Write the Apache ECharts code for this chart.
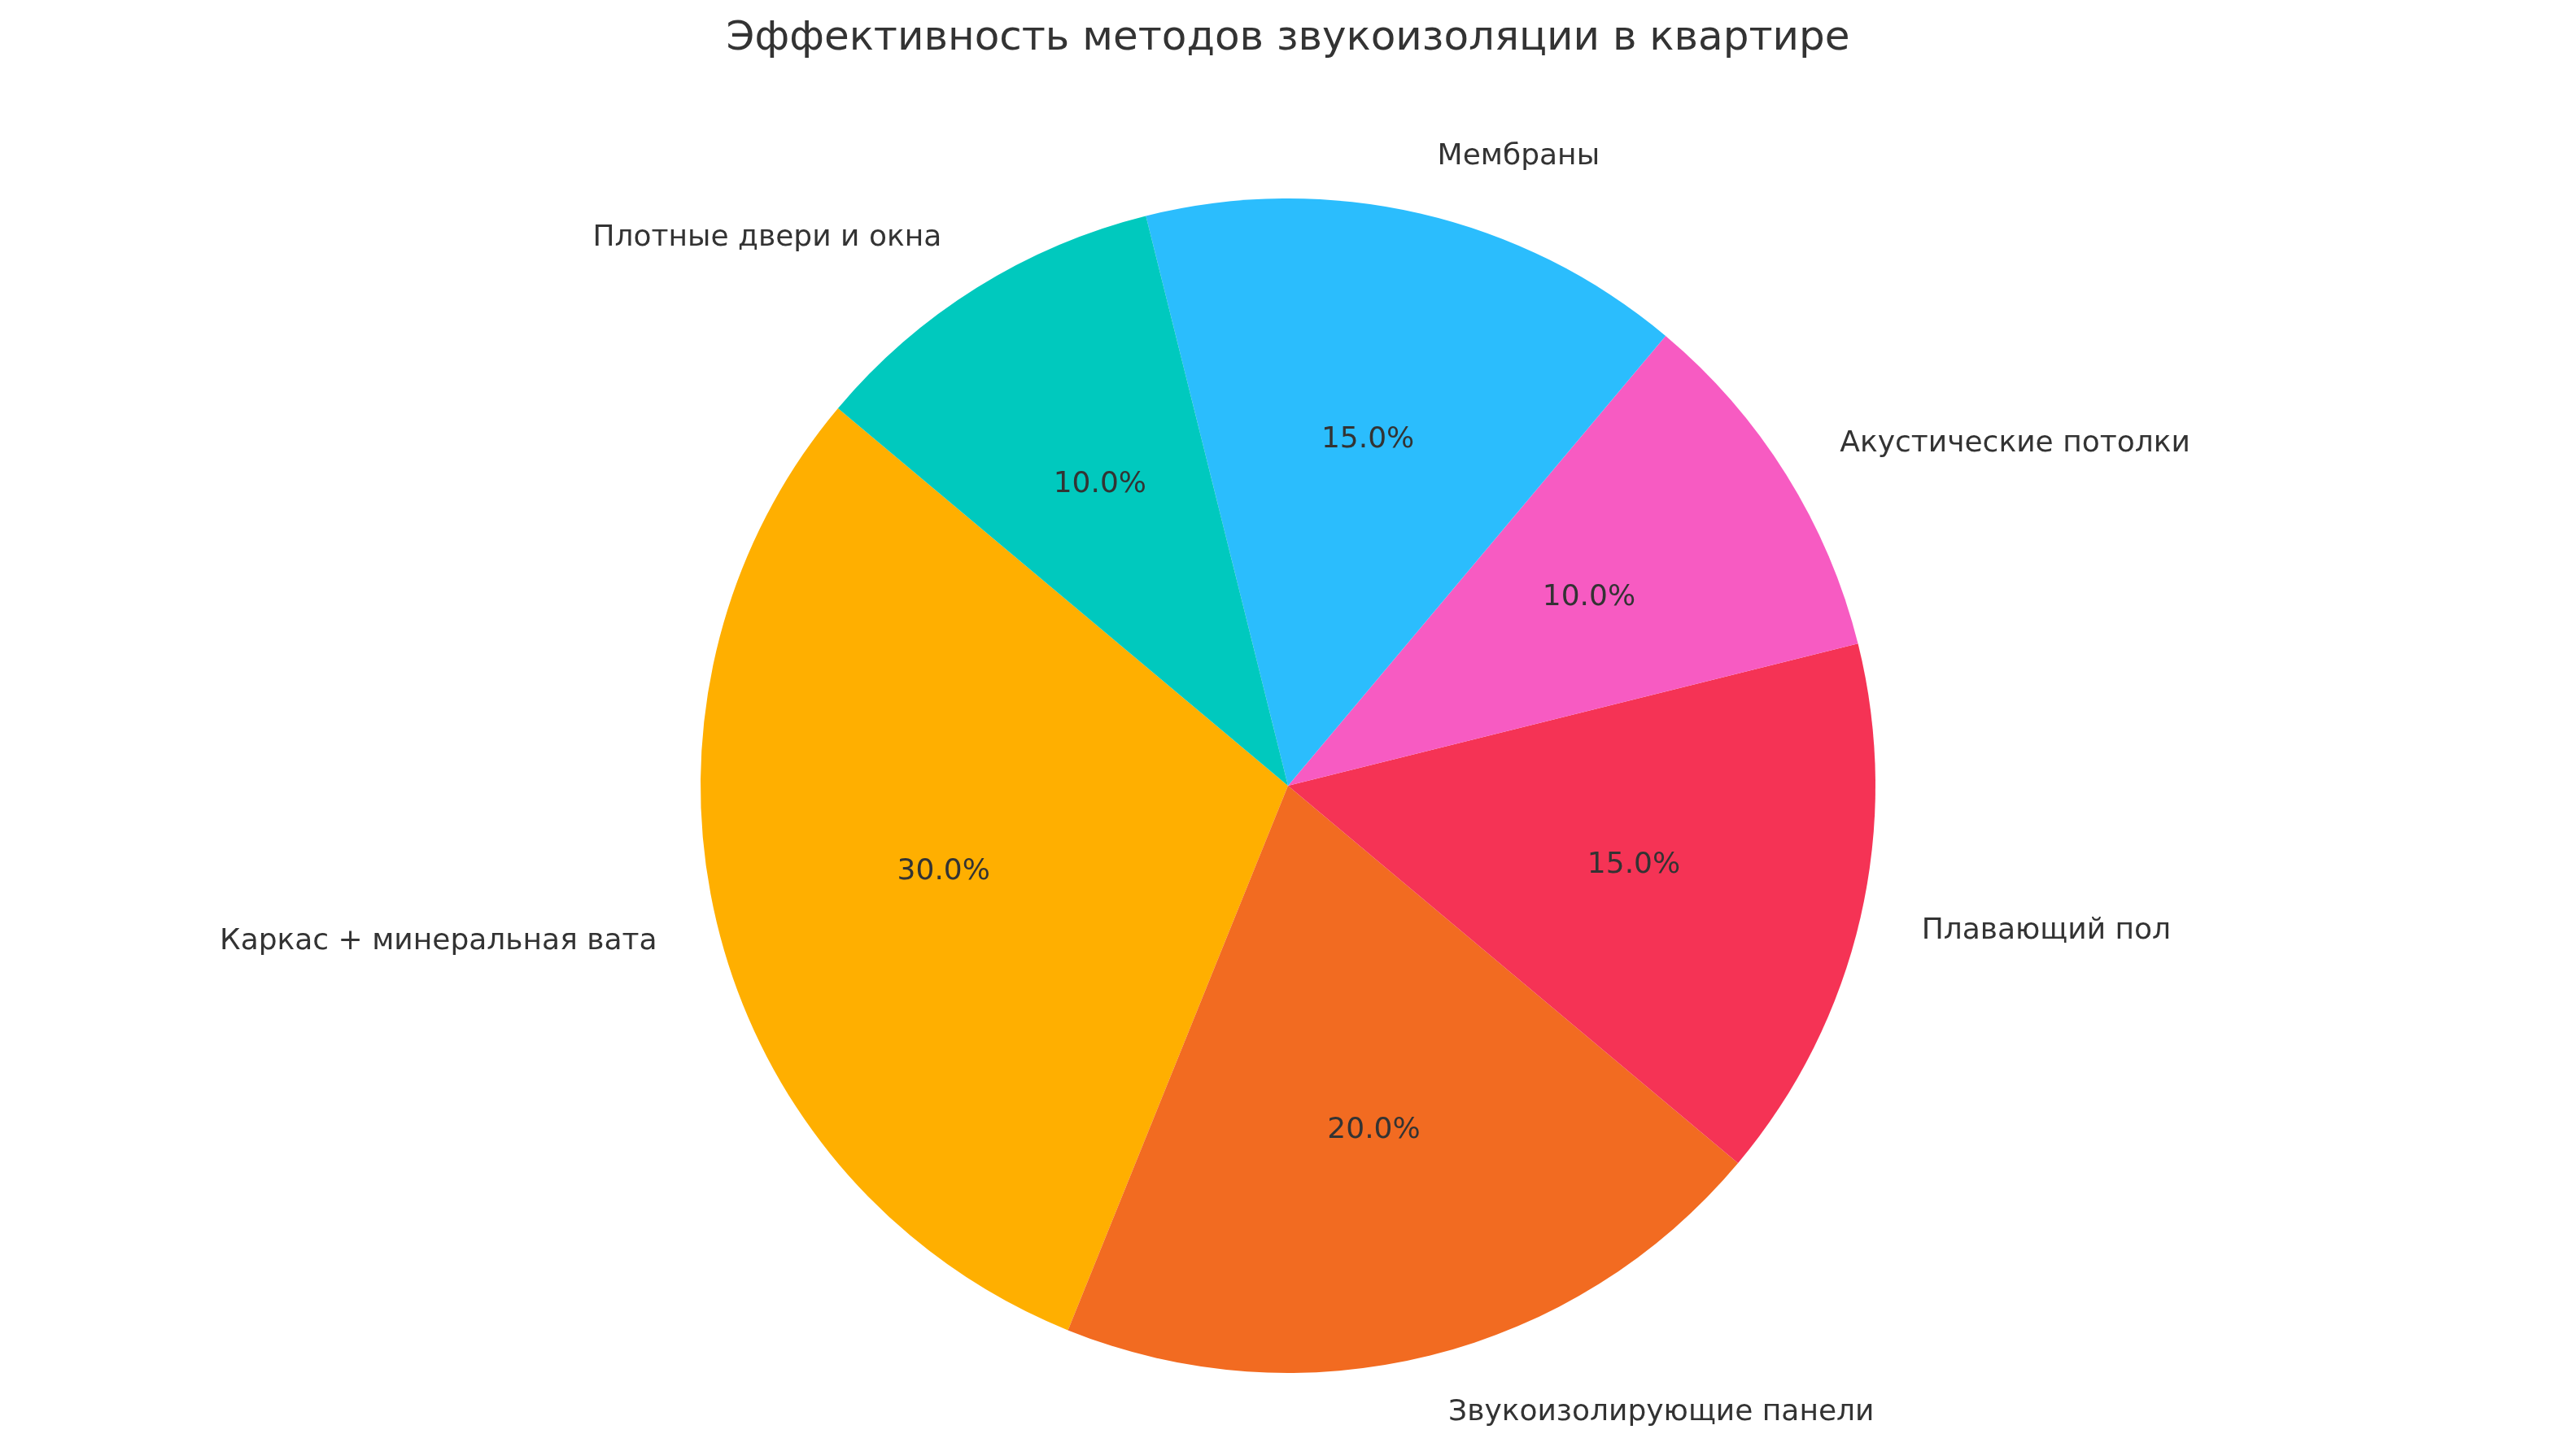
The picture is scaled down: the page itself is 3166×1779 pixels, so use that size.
<!DOCTYPE html>
<html><head><meta charset="utf-8">
<script src="https://cdn.jsdelivr.net/npm/echarts@6/dist/echarts.min.js"></script>
<style>html,body{margin:0;background:#fff}#c{width:3166px;height:1779px}</style>
</head><body><div id="c"></div>
<script>
const categories = ['Каркас + минеральная вата','Звукоизолирующие панели','Плавающий пол','Акустические потолки','Мембраны','Плотные двери и окна'];
const values = [30,20,15,10,15,10];
const colors = ['#FFAF00','#F26B21','#F53355','#F75BC2','#2BBDFD','#00C9BE'];
const R = 722;
const center = [1583, 966];
const data = categories.map((n,i)=>({name:n,value:values[i],itemStyle:{color:colors[i]}}));
const chart = echarts.init(document.getElementById('c'));
chart.setOption({
  animation:false,
  title:{text:'Эффективность методов звукоизоляции в квартире',left:'center',top:18,
    textStyle:{fontFamily:'DejaVu Sans',fontSize:50,fontWeight:'normal',color:'#333'}},
  series:[
    {type:'pie',center:center,radius:[0,R],startAngle:140,clockwise:false,data:data,
     label:{show:true,position:'outside',fontFamily:'DejaVu Sans',fontSize:36,color:'#333',formatter:'{b}'},
     labelLine:{show:false,length:72,length2:0},emphasis:{disabled:true}},
    {type:'pie',center:center,radius:[0,R*1.2],startAngle:140,clockwise:false,silent:true,
     data:data.map(d=>({name:d.name,value:d.value,itemStyle:{color:'rgba(0,0,0,0)'}})),
     label:{show:true,position:'inside',fontFamily:'DejaVu Sans',fontSize:36,color:'#333',
       formatter:p=>p.value.toFixed(1)+'%'},
     labelLine:{show:false},z:3}
  ]
});
</script></body></html>
